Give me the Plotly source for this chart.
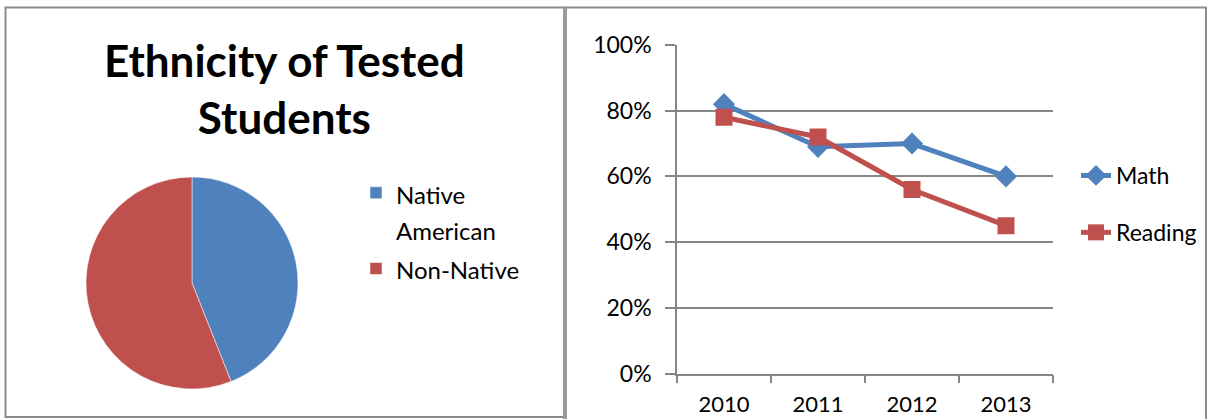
import plotly.graph_objects as go

W, H = 1210, 419

# Data
ethnicity_labels = ["Native<br>American", "Non-Native"]
ethnicity_values = [44, 56]
years = ["2010", "2011", "2012", "2013"]
math = [0.82, 0.69, 0.70, 0.60]
reading = [0.78, 0.72, 0.56, 0.45]

BLUE = "#4F81BD"
RED = "#C0504D"
GRID = "#868686"
FONT = "Lato"

def px(x):
    return x / W

def py(y):
    return 1 - y / H

def sized(label, size=24):
    return "<br>".join(f"<span style='font-size:{size}px'>{part}</span>" for part in label.split("<br>"))

fig = go.Figure()

fig.add_trace(go.Pie(
    labels=[sized(l) for l in ethnicity_labels], values=ethnicity_values,
    marker=dict(colors=[BLUE, RED], line=dict(color="white", width=0.5)),
    sort=False, direction="clockwise", rotation=0,
    textinfo="none", hoverinfo="label+percent",
    domain=dict(x=[px(86), px(298)], y=[py(389), py(177)]),
    legend="legend", showlegend=True,
))

fig.add_trace(go.Scatter(
    x=years, y=math, name="Math", mode="lines+markers", legendgroup="m",
    line=dict(color=BLUE, width=5),
    marker=dict(symbol="diamond", size=17, color=BLUE),
    xaxis="x", yaxis="y", legend="legend2",
))
fig.add_trace(go.Scatter(
    x=years, y=reading, name="Reading", mode="lines+markers", legendgroup="r",
    line=dict(color=RED, width=5),
    marker=dict(symbol="square", size=17, color=RED),
    xaxis="x", yaxis="y", legend="legend2",
))

shapes = [
    dict(type="rect", xref="paper", yref="paper", x0=px(5.5), x1=px(565), y0=py(417), y1=py(7.5),
         line=dict(color="#8C8C8C", width=2)),
    dict(type="rect", xref="paper", yref="paper", x0=px(565), x1=px(1206), y0=py(425), y1=py(7.5),
         line=dict(color="#8C8C8C", width=2)),
    dict(type="line", xref="paper", yref="paper", x0=px(565), x1=px(565), y0=0, y1=py(7.5),
         line=dict(color="#9A9A9A", width=4)),
]

fig.update_layout(
    template="none",
    width=W, height=H,
    margin=dict(l=0, r=0, t=0, b=0, pad=0, autoexpand=False),
    paper_bgcolor="white", plot_bgcolor="white",
    font=dict(family=FONT, size=23, color="black"),
    shapes=shapes,
    annotations=[dict(
        text="<b>Ethnicity of Tested<br>Students</b>", x=px(284), y=py(88),
        xref="paper", yref="paper", xanchor="center", yanchor="middle",
        showarrow=False, font=dict(family=FONT, size=44, color="black"),
    )],
    xaxis=dict(
        domain=[px(677), px(1053)], anchor="y", type="category", automargin=False,
        range=[-0.5, 3.5], tickson="boundaries", ticks="outside", ticklen=8,
        tickcolor=GRID, tickwidth=1.5, showline=True, linecolor=GRID, linewidth=1.5,
        showgrid=False, tickfont=dict(size=22, family=FONT, color="black"),
        ticklabelstandoff=10, fixedrange=True,
    ),
    yaxis=dict(
        domain=[py(373.5), py(45)], anchor="x", range=[0, 1], dtick=0.2, automargin=False,
        tickformat=".0%", ticks="outside", ticklen=10, tickcolor=GRID, tickwidth=1.5,
        showline=True, linecolor=GRID, linewidth=1.5,
        showgrid=True, gridcolor=GRID, gridwidth=1.5, zeroline=False,
        tickfont=dict(size=23, family=FONT, color="black"),
        ticklabelstandoff=9, fixedrange=True,
    ),
    legend=dict(
        x=px(356), y=py(168), xanchor="left", yanchor="top", valign="top",
        font=dict(size=28, family=FONT, color="black"), bgcolor="rgba(0,0,0,0)",
    ),
    legend2=dict(
        x=px(1076), y=py(154), xanchor="left", yanchor="top",
        font=dict(size=23, family=FONT, color="black"), bgcolor="rgba(0,0,0,0)",
        tracegroupgap=24,
    ),
)

fig.write_html("out.html", config={"displayModeBar": False},
               post_script="document.body.style.margin='0px';")
